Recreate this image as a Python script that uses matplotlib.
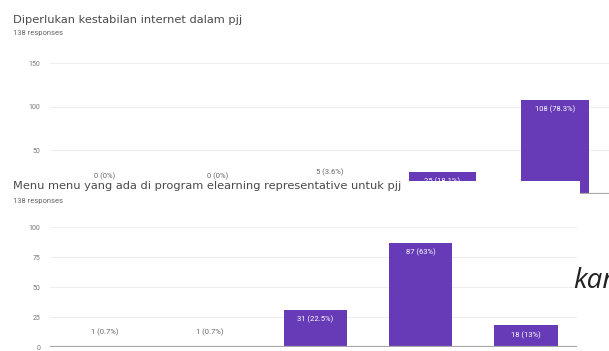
import matplotlib
matplotlib.use("Agg")
import matplotlib.pyplot as plt
from matplotlib.patches import Rectangle

# ---- data ----
categories = ["1", "2", "3", "4", "5"]
top_title = "Diperlukan kestabilan internet dalam pjj"
top_values = [0, 0, 5, 25, 108]
top_labels = ["0 (0%)", "0 (0%)", "5 (3.6%)", "25 (18.1%)", "108 (78.3%)"]
top_yticks = [0, 50, 100, 150]

bot_title = "Menu menu yang ada di program elearning representative untuk pjj"
bot_values = [1, 1, 31, 87, 18]
bot_labels = ["1 (0.7%)", "1 (0.7%)", "31 (22.5%)", "87 (63%)", "18 (13%)"]
bot_yticks = [0, 25, 50, 75, 100]
responses = "138 responses"
side_text = "kan"

PURPLE = "#673ab7"
W, H = 609, 351
plt.rcParams['font.family'] = ['Roboto', 'DejaVu Sans']

fig = plt.figure(figsize=(W / 100, H / 100), dpi=100)
fig.patch.set_facecolor("white")

def px_axes(left, right, y0, ytop):
    return [left / W, (H - y0) / H, (right - left) / W, (y0 - ytop) / H]

def style(ax, values, labels, yticks, ymax, inside_thresh, above_off):
    x = list(range(len(values)))
    ax.bar(x, values, width=0.6, color=PURPLE, zorder=2)
    ax.set_ylim(0, ymax)
    ax.set_yticks(yticks)
    ax.set_yticklabels([str(t) for t in yticks], fontsize=5, color="#777777")
    ax.tick_params(axis="y", length=0, pad=7)
    ax.set_xticks([])
    for s in ax.spines.values():
        s.set_visible(False)
    for t in yticks[1:]:
        ax.axhline(t, color="#eeeeee", lw=0.8, zorder=1)
    ax.axhline(0, color="#a8a8a8", lw=1.6, zorder=3)
    for xi, v, lab in zip(x, values, labels):
        if v >= inside_thresh:
            ax.annotate(lab, (xi, v), xytext=(0, -4), textcoords="offset points",
                        ha="center", va="top", fontsize=5.5, color="white", zorder=4)
        else:
            ax.annotate(lab, (xi, v), xytext=(0, above_off), textcoords="offset points",
                        ha="center", va="center", fontsize=5.5, color="#666666", zorder=4)
    ax.set_facecolor("none")

# ---- top chart ----
ax1 = fig.add_axes(px_axes(50, 609, 194, 63), zorder=0)
ax1.set_xlim((50 - 105) / 112.5, (609 - 105) / 112.5)
style(ax1, top_values, top_labels, top_yticks, 150, 20, 12.5)
fig.text(13 / W, (H - 20) / H, top_title, fontsize=8.2, color="#4a4a4a", va="center", ha="left",
         family=["DejaVu Sans"])
fig.text(13 / W, (H - 33) / H, responses, fontsize=5.5, color="#666666", va="center", ha="left")

# ---- overlay white panel ----
panel = Rectangle((0, 0), 580 / W, (H - 181) / H, transform=fig.transFigure,
                  facecolor="white", edgecolor="none", zorder=1)
fig.add_artist(panel)

# ---- bottom chart ----
ax2 = fig.add_axes(px_axes(50, 577, 347, 227), zorder=2)
ax2.set_xlim((50 - 105) / 105.25, (577 - 105) / 105.25)
style(ax2, bot_values, bot_labels, bot_yticks, 100, 10, 10)
t1 = fig.text(13 / W, (H - 186) / H, bot_title, fontsize=8.2, color="#4a4a4a", va="center", ha="left",
              family=["DejaVu Sans"])
t2 = fig.text(13 / W, (H - 201) / H, responses, fontsize=5.5, color="#666666", va="center", ha="left")
t1.set_zorder(5); t2.set_zorder(5)

t3 = fig.text(573 / W, (H - 281) / H, side_text, fontsize=20, style="italic",
              family=["Open Sans", "DejaVu Sans"], color="#222222", va="center", ha="left")
t3.set_zorder(5)

fig.savefig("out.png", dpi=100, facecolor="white")
